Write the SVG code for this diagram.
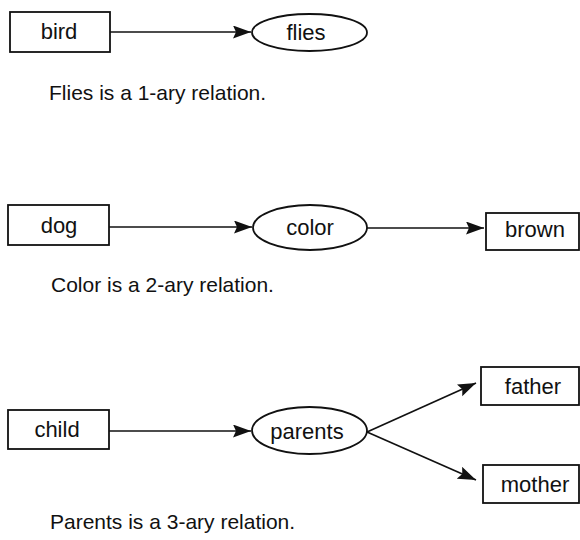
<svg xmlns="http://www.w3.org/2000/svg" width="580" height="540" viewBox="0 0 580 540">
<style>
.box{fill:#fff;stroke:#111;stroke-width:1.8}
.rel{fill:#fff;stroke:#111;stroke-width:1.8}
.lbl{font-family:"Liberation Sans",Arial,sans-serif;font-size:22px;fill:#111;text-anchor:middle}
.cap{font-family:"Liberation Sans",Arial,sans-serif;font-size:21px;fill:#111}
.edge{stroke:#111;stroke-width:1.7;fill:none;marker-end:url(#arr)}
</style>
<defs>
<marker id="arr" markerUnits="userSpaceOnUse" markerWidth="20" markerHeight="14" refX="18" refY="6.5" orient="auto">
<path d="M0,0 L18,6.5 L0,13 L3,6.5 Z" fill="#111"/>
</marker>
</defs>
<rect width="580" height="540" fill="#fff"/>
<g id="connectors">
<line class="edge" x1="110" y1="32" x2="251" y2="32"/>
<line class="edge" x1="109" y1="227" x2="252" y2="227"/>
<line class="edge" x1="367" y1="228" x2="484" y2="228"/>
<line class="edge" x1="109" y1="431" x2="251" y2="431"/>
<line class="edge" x1="367" y1="432" x2="476" y2="383"/>
<line class="edge" x1="367" y1="432" x2="476" y2="480"/>
</g>
<g id="bird"><rect class="box" x="10" y="12" width="100" height="40"/><text class="lbl" x="59" y="39">bird</text></g>
<g id="flies"><ellipse class="rel" cx="309.5" cy="32.5" rx="57.5" ry="18.5"/><text class="lbl" x="306" y="40">flies</text></g>
<text class="cap" x="49" y="100">Flies is a 1-ary relation.</text>
<g id="dog"><rect class="box" x="8" y="205" width="101" height="40"/><text class="lbl" x="59" y="233">dog</text></g>
<g id="color"><ellipse class="rel" cx="310" cy="227.5" rx="57" ry="22.5"/><text class="lbl" x="310" y="235">color</text></g>
<g id="brown"><rect class="box" x="486" y="213" width="93" height="37"/><text class="lbl" x="535" y="237">brown</text></g>
<text class="cap" x="51" y="292">Color is a 2-ary relation.</text>
<g id="child"><rect class="box" x="8" y="410" width="101" height="39"/><text class="lbl" x="57" y="437">child</text></g>
<g id="parents"><ellipse class="rel" cx="309.5" cy="430.5" rx="57.5" ry="23.5"/><text class="lbl" x="307" y="439">parents</text></g>
<g id="father"><rect class="box" x="481" y="367" width="98" height="38"/><text class="lbl" x="533" y="394">father</text></g>
<g id="mother"><rect class="box" x="483" y="465" width="96" height="38"/><text class="lbl" x="535" y="492">mother</text></g>
<text class="cap" x="50" y="529">Parents is a 3-ary relation.</text>
</svg>
